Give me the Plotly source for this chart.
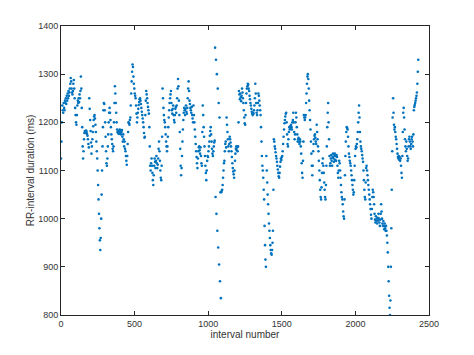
import plotly.graph_objects as go

# RR-interval durations (ms), read every 3rd interval from the picture
rr_ms = [
    1125, 1160, 1200, 1235, 1225, 1220, 1240, 1230, 1225, 1245,
    1240, 1250, 1238, 1255, 1245, 1260, 1250, 1265, 1255, 1262,
    1270, 1280, 1292, 1285, 1270, 1262, 1258, 1265, 1280, 1288,
    1270, 1250, 1230, 1215, 1200, 1195, 1215, 1235, 1245, 1240,
    1250, 1242, 1258, 1250, 1265, 1295, 1270, 1230, 1190, 1150,
    1125, 1140, 1165, 1178, 1182, 1180, 1178, 1183, 1180, 1176,
    1172, 1165, 1155, 1148, 1250, 1228, 1205, 1182, 1158, 1135,
    1150, 1165, 1180, 1192, 1205, 1212, 1215, 1208, 1195, 1180,
    1160, 1140, 1125, 1100, 1070, 1040, 1010, 980, 955, 935,
    960, 1000, 1050, 1100, 1150, 1190, 1225, 1240, 1238, 1225,
    1200, 1170, 1140, 1115, 1110, 1125, 1150, 1175, 1200, 1220,
    1230, 1220, 1205, 1190, 1175, 1165, 1155, 1145, 1140, 1150,
    1200, 1240, 1275, 1260, 1240, 1220, 1200, 1185, 1180, 1178,
    1182, 1176, 1180, 1185, 1178, 1182, 1175, 1180, 1184, 1170,
    1160, 1175, 1165, 1150, 1160, 1145, 1140, 1130, 1120, 1112,
    1130, 1155, 1180, 1200, 1198, 1195, 1205, 1210, 1235, 1260,
    1285, 1305, 1320, 1315, 1295, 1280, 1270, 1260, 1255, 1250,
    1235, 1218, 1200, 1210, 1220, 1228, 1236, 1242, 1248, 1250,
    1245, 1238, 1230, 1222, 1215, 1208, 1200, 1190, 1178, 1168,
    1170, 1215, 1245, 1265, 1258, 1250, 1240, 1232, 1225, 1218,
    1190, 1150, 1110, 1100, 1115, 1125, 1110, 1095, 1080, 1070,
    1090, 1110, 1125, 1118, 1105, 1120, 1130, 1115, 1105, 1112,
    1125, 1145, 1160, 1140, 1120, 1100, 1085, 1080, 1110, 1170,
    1270, 1250, 1230, 1215, 1205, 1200, 1190, 1175, 1160, 1150,
    1140, 1150, 1170, 1190, 1210, 1225, 1240, 1250, 1258, 1265,
    1240, 1225, 1218, 1228, 1235, 1215, 1205, 1200, 1215, 1228,
    1232, 1220, 1235, 1250, 1270, 1290, 1275, 1245, 1215, 1180,
    1145, 1110, 1090, 1105, 1130, 1160, 1185, 1205, 1220, 1230,
    1225, 1215, 1228, 1235, 1222, 1218, 1230, 1250, 1270, 1285,
    1265, 1245, 1238, 1230, 1225, 1220, 1232, 1215, 1208, 1200,
    1235, 1215, 1200, 1185, 1170, 1155, 1140, 1128, 1115, 1105,
    1125, 1140, 1148, 1150, 1142, 1135, 1148, 1130, 1115, 1110,
    1180, 1235, 1215, 1190, 1170, 1150, 1130, 1110, 1095, 1080,
    1100, 1120, 1130, 1128, 1140, 1150, 1160, 1172, 1182, 1190,
    1175, 1160, 1145, 1135, 1130, 1140, 1150, 1158, 1162, 1355,
    1045, 1330, 1010, 1300, 975, 1270, 940, 1240, 905, 1210,
    870, 1055, 835, 1055, 1058, 1060, 1070, 1085, 1100, 1115,
    1120, 1140, 1155, 1160, 1148, 1210, 1195, 1180, 1165, 1150,
    1140, 1155, 1170, 1165, 1158, 1150, 1140, 1128, 1115, 1105,
    1098, 1092, 1085, 1100, 1120, 1135, 1145, 1150, 1142, 1148,
    1140, 1150, 1200, 1265, 1258, 1248, 1260, 1252, 1244, 1255,
    1270, 1262, 1250, 1240, 1225, 1210, 1198, 1195, 1215, 1240,
    1260, 1270, 1275, 1280, 1278, 1270, 1265, 1255, 1248, 1240,
    1235, 1228, 1222, 1218, 1215, 1220, 1218, 1225, 1235, 1250,
    1280, 1260, 1240, 1220, 1215, 1225, 1240, 1260, 1255, 1245,
    1235, 1225, 1215, 1190, 1160, 1130, 1110, 1100, 1085, 1060,
    1040, 985, 945, 915, 900, 1130, 1100, 1075, 1050, 1030,
    1010, 990, 975, 960, 945, 935, 928, 925, 935, 950,
    975, 1060, 1165, 1160, 1150, 1145, 1138, 1130, 1125, 1118,
    1110, 1102, 1095, 1088, 1085, 1095, 1108, 1118, 1125, 1122,
    1128, 1130, 1140, 1155, 1170, 1185, 1198, 1205, 1212, 1218,
    1220, 1200, 1175, 1155, 1150, 1165, 1180, 1190, 1185, 1192,
    1188, 1195, 1190, 1185, 1200, 1205, 1220, 1200, 1180, 1165,
    1175, 1200, 1220, 1210, 1190, 1175, 1160, 1165, 1168, 1160,
    1155, 1165, 1160, 1150, 1135, 1115, 1095, 1085, 1120, 1160,
    1215, 1210, 1205, 1210, 1215, 1240, 1260, 1280, 1295, 1300,
    1290, 1270, 1245, 1225, 1205, 1185, 1160, 1135, 1110, 1090,
    1110, 1140, 1155, 1165, 1172, 1175, 1168, 1160, 1155, 1195,
    1180, 1165, 1150, 1140, 1120, 1100, 1080, 1060, 1045, 1040,
    1065, 1095, 1115, 1125, 1110, 1095, 1075, 1060, 1045, 1040,
    1070, 1110, 1150, 1190, 1220, 1240, 1200, 1165, 1130, 1110,
    1115, 1125, 1132, 1120, 1110, 1128, 1135, 1125, 1118, 1130,
    1135, 1122, 1130, 1120, 1132, 1128, 1110, 1095, 1085, 1100,
    1120, 1115, 1100, 1085, 1070, 1055, 1045, 1040, 1030, 1015,
    1005, 1000, 1040, 1090, 1130, 1160, 1180, 1190, 1188, 1185,
    1170, 1150, 1135, 1128, 1120, 1115, 1110, 1100, 1090, 1080,
    1070, 1060, 1050, 1055, 1080, 1110, 1130, 1145, 1150, 1148,
    1155, 1165, 1180, 1200, 1220, 1235, 1210, 1180, 1160, 1150,
    1145, 1140, 1132, 1125, 1118, 1100, 1080, 1060, 1045, 1040,
    1075, 1105, 1110, 1100, 1090, 1080, 1070, 1060, 1050, 1040,
    1030, 1020, 1008, 1000, 1020, 1045, 1060, 1055, 1045, 1030,
    1010, 998, 992, 1005, 995, 1000, 990, 1002, 996, 1010,
    1000, 992, 985, 998, 1010, 1030, 1015, 1000, 990, 985,
    995, 985, 978, 990, 980, 975, 985, 975, 965, 950,
    930, 900, 870, 840, 815, 800, 830, 900, 980, 1060,
    1140, 1210, 1250, 1220, 1195, 1185, 1190, 1180, 1170, 1165,
    1155, 1145, 1135, 1128, 1125, 1130, 1122, 1128, 1120, 1125,
    1110, 1095, 1085, 1130, 1180, 1220, 1230, 1210, 1185, 1165,
    1150, 1140, 1160, 1145, 1130, 1120, 1125, 1150, 1165, 1170,
    1160, 1150, 1145, 1155, 1165, 1170, 1160, 1150, 1175, 1225,
    1232, 1236, 1240, 1245, 1250, 1255, 1262, 1280, 1305, 1330,
]
interval_step = 3
interval = [i * interval_step for i in range(len(rr_ms))]

x_ticks = [0, 500, 1000, 1500, 2000, 2500]
y_ticks = [800, 900, 1000, 1100, 1200, 1300, 1400]

fig = go.Figure()
fig.add_trace(go.Scatter(
    x=interval, y=rr_ms, mode="markers",
    marker=dict(color="#0072BD", size=2.6, line=dict(width=0)),
    showlegend=False,
))

axis_common = dict(
    showline=True, linecolor="#262626", linewidth=1, mirror="ticks",
    ticks="inside", ticklen=4, tickcolor="#262626", showgrid=False,
    zeroline=False, tickfont=dict(size=9, color="#333333"),
)
fig.update_xaxes(range=[0, 2500], tickvals=x_ticks,
                 title=dict(text="interval number", font=dict(size=10, color="#333333"), standoff=3),
                 **axis_common)
fig.update_yaxes(range=[800, 1400], tickvals=y_ticks,
                 title=dict(text="RR-interval duration (ms)", font=dict(size=10, color="#333333"), standoff=1),
                 **axis_common)
fig.update_layout(
    width=474, height=355,
    margin=dict(l=61, r=45, t=26, b=40),
    paper_bgcolor="white", plot_bgcolor="white",
    font=dict(family="Liberation Sans, Arial, sans-serif"),
)
fig.write_html("out.html")
